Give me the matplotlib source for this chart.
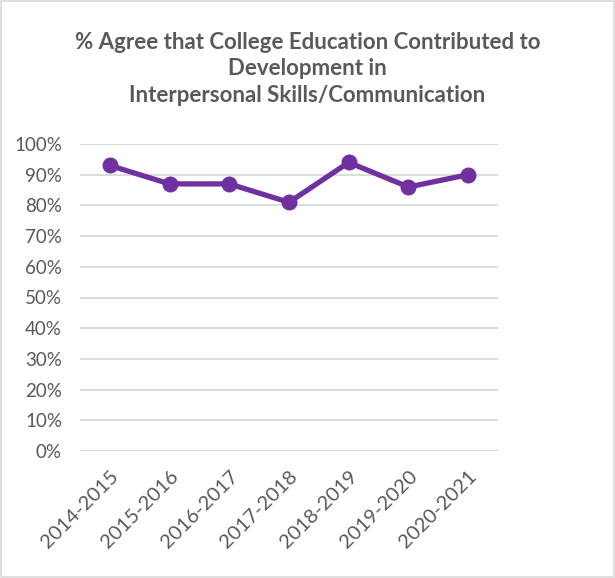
import matplotlib.pyplot as plt
from matplotlib.ticker import PercentFormatter
from matplotlib.patches import Rectangle

years = ["2014-2015", "2015-2016", "2016-2017", "2017-2018",
         "2018-2019", "2019-2020", "2020-2021"]
agree_pct = [93, 87, 87, 81, 94, 86, 90]
y_ticks = list(range(0, 101, 10))

plt.rcParams['font.family'] = ['Lato', 'DejaVu Sans']
text_color = '#595959'

fig = plt.figure(figsize=(6.15, 5.78), dpi=100)
ax = fig.add_axes([80 / 615, 1 - 451 / 578, 418 / 615, 307 / 578])

x = list(range(len(years)))
ax.plot(x, agree_pct, color='#7030A0', linewidth=3.8, marker='o',
        markersize=10.5, solid_joinstyle='round', zorder=3)

ax.set_xlim(-0.5, len(years) - 0.5)
ax.set_ylim(0, 100)
ax.set_yticks(y_ticks)
ax.yaxis.set_major_formatter(PercentFormatter(decimals=0))
ax.set_xticks(x)
ax.set_xticklabels(years, rotation=45, ha='right', rotation_mode='anchor')

ax.grid(axis='y', color='#D9D9D9', linewidth=1.3)
ax.set_axisbelow(True)
for s in ax.spines.values():
    s.set_visible(False)
ax.tick_params(axis='y', length=0, colors=text_color, labelsize=13.5, pad=13)
ax.tick_params(axis='x', length=0, colors=text_color, labelsize=14.5, pad=12)

fig.text(0.5, 1 - 69 / 578,
         "% Agree that College Education Contributed to\nDevelopment in\nInterpersonal Skills/Communication",
         ha='center', va='center', fontsize=16, fontweight='bold',
         color=text_color, linespacing=1.3)

fig.patches.append(Rectangle((0.001, 0.001), 0.997, 0.997, transform=fig.transFigure,
                             fill=False, edgecolor='#D9D9D9', linewidth=1.2))

fig.savefig('out.png', dpi=100, facecolor='white')
